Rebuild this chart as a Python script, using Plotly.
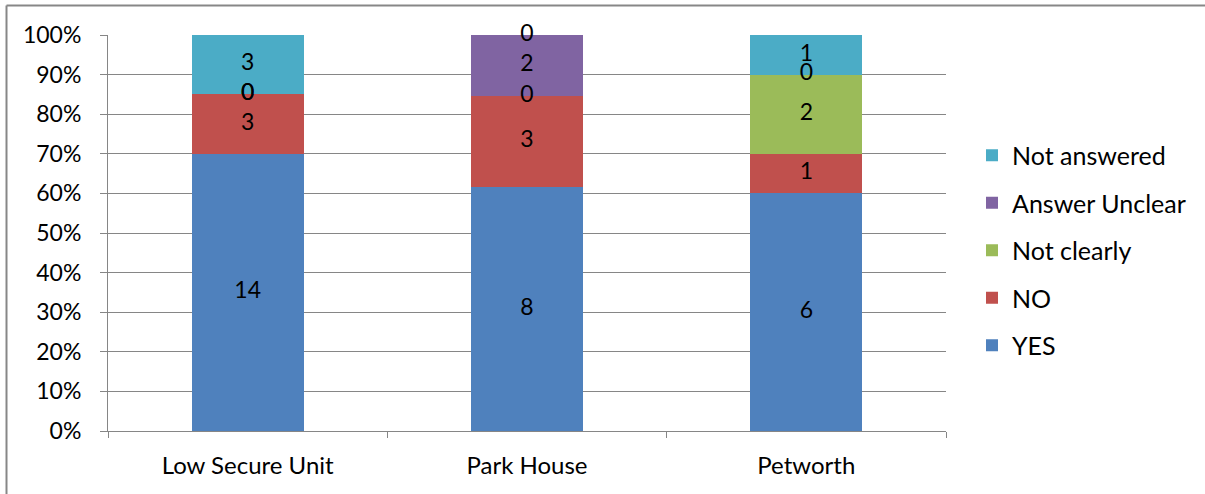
import plotly.graph_objects as go

categories = ["Low Secure Unit", "Park House", "Petworth"]
series_names = ["YES", "NO", "Not clearly", "Answer Unclear", "Not answered"]
yes_vals = [14, 8, 6]
no_vals = [3, 3, 1]
not_clearly_vals = [0, 0, 2]
answer_unclear_vals = [0, 2, 0]
not_answered_vals = [3, 0, 1]
colors = ["#4F81BD", "#C0504D", "#9BBB59", "#8064A2", "#4BACC6"]
y_tick_vals = [0, 10, 20, 30, 40, 50, 60, 70, 80, 90, 100]
y_tick_text = [f"{v}%" for v in y_tick_vals]

all_series = [yes_vals, no_vals, not_clearly_vals, answer_unclear_vals, not_answered_vals]
totals = [sum(s[i] for s in all_series) for i in range(len(categories))]

W, H = 1205, 494
L, R, T, B = 108, 946, 35, 431
FONT = "Lato"
FS = 23

fig = go.Figure()

cum = [0.0] * len(categories)
lab_x, lab_y, lab_t = [], [], []
n = len(series_names)
for gi, (name, vals, col) in enumerate(zip(series_names, all_series, colors)):
    pct = [v / t * 100 for v, t in zip(vals, totals)]
    fig.add_trace(go.Bar(
        x=categories, y=pct, name=name, marker=dict(color=col, line=dict(width=0)),
        width=0.4, legendgroup=name, legendrank=n - gi, hoverinfo="skip",
    ))
    for i, c in enumerate(categories):
        lab_x.append(c)
        lab_y.append(cum[i] + pct[i] / 2)
        lab_t.append(str(vals[i]))
        cum[i] += pct[i]

fig.add_trace(go.Scatter(
    x=lab_x, y=lab_y, text=lab_t, mode="text", showlegend=False, hoverinfo="skip",
    textfont=dict(family=FONT, size=FS, color="black"), textposition="middle center",
    cliponaxis=False,
))

pw, ph = R - L, B - T
def px(xp):
    return (xp - L) / pw
def py(yp):
    return (B - yp) / ph

fig.add_shape(type="line", xref="paper", yref="paper", x0=px(6.5), x1=px(1210), y0=py(5.5), y1=py(5.5),
              line=dict(color="#878787", width=2))
fig.add_shape(type="line", xref="paper", yref="paper", x0=px(6.5), x1=px(6.5), y0=py(5.5), y1=py(500),
              line=dict(color="#878787", width=2))

fig.update_layout(
    width=W, height=H,
    margin=dict(l=L, r=W - R, t=T, b=H - B),
    barmode="stack", bargap=0.6,
    plot_bgcolor="white", paper_bgcolor="white",
    font=dict(family=FONT, size=FS, color="black"),
    showlegend=True,
    legend=dict(x=px(972), xanchor="left", y=py(250.5), yanchor="middle",
                traceorder="grouped", tracegroupgap=12,
                font=dict(family=FONT, size=25, color="black"),
                bgcolor="rgba(0,0,0,0)"),
    xaxis=dict(showgrid=False, showline=True, linecolor="#868686", linewidth=1,
               ticks="outside", tickson="boundaries", ticklen=6, tickcolor="#868686",
               ticklabelstandoff=13,
               tickfont=dict(family=FONT, size=24), fixedrange=True),
    yaxis=dict(range=[0, 100], tickvals=y_tick_vals, ticktext=y_tick_text,
               showgrid=True, gridcolor="#868686", gridwidth=1,
               showline=True, linecolor="#868686", linewidth=1,
               ticks="outside", ticklen=7, tickcolor="#868686",
               ticklabelstandoff=14, zeroline=False,
               tickfont=dict(family=FONT, size=FS), fixedrange=True),
)

fig.write_html("out.html")
